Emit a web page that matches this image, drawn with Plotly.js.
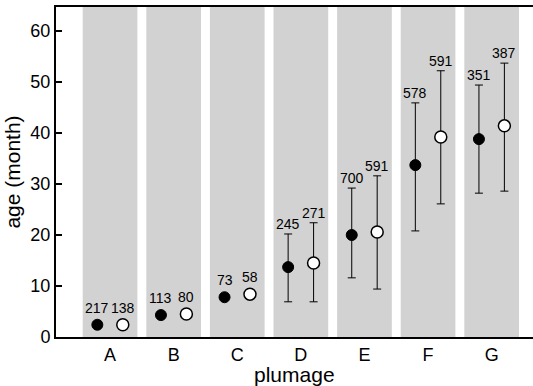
<!DOCTYPE html>
<html><head><meta charset="utf-8">
<script src="https://cdn.plot.ly/plotly-3.0.1.min.js"></script>
<style>body{margin:0;background:#fff}#c{width:533px;height:386px}</style>
</head><body><div id="c"></div>
<script>
const categories = ['A','B','C','D','E','F','G'];
// filled (black) series
const filledMean  = [2.4, 4.3, 7.8, 13.7, 20.0, 33.7, 38.8];
const filledPlus  = [0, 0, 0, 6.5, 9.2, 12.2, 10.6];
const filledMinus = [0, 0, 0, 6.8, 8.4, 12.9, 10.6];
const filledN     = ['217','113','73','245','700','578','351'];
// open (white) series
const openMean  = [2.4, 4.5, 8.4, 14.5, 20.6, 39.2, 41.4];
const openPlus  = [0, 0, 0, 7.9, 11.0, 13.0, 12.3];
const openMinus = [0, 0, 0, 7.6, 11.2, 13.1, 12.8];
const openN     = ['138','80','58','271','591','591','387'];
const yTicks = [0,10,20,30,40,50,60];
const xTitle = 'plumage';
const yTitle = 'age (month)';

const off = 0.2;
const idx = categories.map((c,i)=>i);
const xF = idx.map(i=>i-off), xO = idx.map(i=>i+off);

const traces = [
 {x:xF, y:filledMean, type:'scatter', mode:'markers',
  marker:{color:'#000', size:11, line:{color:'#000',width:1}},
  error_y:{type:'data', symmetric:false, array:filledPlus, arrayminus:filledMinus, color:'#000', thickness:1, width:4, visible:true}},
 {x:xO, y:openMean, type:'scatter', mode:'markers',
  marker:{color:'#fff', size:12, line:{color:'#000',width:1.5}},
  error_y:{type:'data', symmetric:false, array:openPlus, arrayminus:openMinus, color:'#000', thickness:1, width:4, visible:true}}
];

const FONT = 'Liberation Sans, Arial, sans-serif';
const annotations = [];
function addLabels(xs, m, p, n){
  xs.forEach((x,i)=>{
    annotations.push({x:x, y:m[i]+p[i], xref:'x', yref:'y', text:n[i], showarrow:false,
      yanchor:'bottom', yshift: p[i]>0 ? 0 : 7,
      font:{family:FONT, size:14, color:'#000'}});
  });
}
addLabels(xF, filledMean, filledPlus, filledN);
addLabels(xO, openMean, openPlus, openN);
annotations.push({x:0.5, y:-0.115, xref:'paper', yref:'paper', text:xTitle, showarrow:false,
  xanchor:'center', yanchor:'middle', font:{family:FONT, size:21, color:'#000'}});

const shapes = idx.map(i=>({type:'rect', xref:'x', yref:'paper', x0:i-0.43, x1:i+0.43, y0:0, y1:1,
  fillcolor:'#d2d2d2', line:{width:0}, layer:'below'}));

const layout = {
  width:533, height:386,
  margin:{l:56, r:0, t:7, b:49},
  paper_bgcolor:'#fff', plot_bgcolor:'#fff',
  showlegend:false,
  font:{family:FONT, color:'#000'},
  xaxis:{range:[-0.85,6.65], tickvals:idx, ticktext:categories, showgrid:false, zeroline:false,
    showline:true, mirror:true, linecolor:'#000', linewidth:2, ticks:'',
    tickfont:{size:18}},
  yaxis:{range:[0,64.7], tickvals:yTicks, showgrid:false, zeroline:false,
    showline:true, linecolor:'#000', linewidth:2, ticks:'inside', ticklen:6, tickwidth:1.5, tickcolor:'#000',
    tickfont:{size:18}, title:{text:yTitle, font:{size:21}, standoff:4}},
  shapes:shapes, annotations:annotations
};
Plotly.newPlot('c', traces, layout, {displayModeBar:false, staticPlot:true});
</script></body></html>
